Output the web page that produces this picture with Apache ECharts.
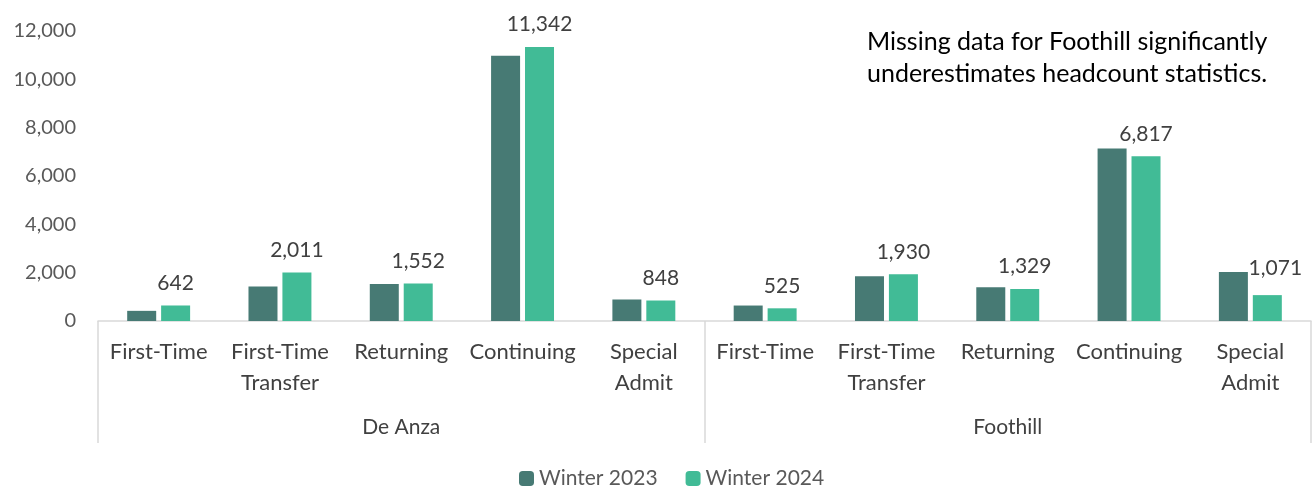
<!DOCTYPE html>
<html><head><meta charset="utf-8">
<script src="https://cdn.jsdelivr.net/npm/echarts@6/dist/echarts.min.js"></script>
<style>html,body{margin:0;padding:0;background:#fff}#c{width:1312px;height:489px}</style>
</head><body><div id="c"></div>
<script>
const categories = ['First-Time','First-Time\nTransfer','Returning','Continuing','Special\nAdmit',
                    'First-Time','First-Time\nTransfer','Returning','Continuing','Special\nAdmit'];
const groups = ['De Anza','Foothill'];
const winter2023 = [420, 1430, 1530, 10980, 890, 640, 1850, 1400, 7140, 2030];
const winter2024 = [642, 2011, 1552, 11342, 848, 525, 1930, 1329, 6817, 1071];
const yTicks = [0, 2000, 4000, 6000, 8000, 10000, 12000];
const note = ['Missing data for Foothill significantly', 'underestimates headcount statistics.'];

const FONT = 'Lato';
const chart = echarts.init(document.getElementById('c'), null, {renderer:'canvas'});
const fmt = v => Number(v).toLocaleString('en-US');
chart.setOption({
  animation:false,
  textStyle:{fontFamily:FONT},
  grid:{left:98, right:1, top:31, bottom:168},
  legend:{
    top:463, left:514, itemWidth:15, itemHeight:15, itemGap:28,
    textStyle:{fontFamily:FONT, fontSize:21, color:'#595959'},
    data:['Winter 2023','Winter 2024']
  },
  graphic:[{
    type:'text', left:867, top:26,
    style:{text:note.join('\n'), font:'25px '+FONT, fill:'#000', lineHeight:32}
  }],
  xAxis:[{
    type:'category', data:categories, position:'bottom',
    axisLine:{show:true, lineStyle:{color:'#d9d9d9', width:1.5}},
    axisTick:{show:false},
    axisLabel:{interval:0, fontFamily:FONT, fontSize:22, color:'#404040', lineHeight:31, margin:15}
  },{
    type:'category', data:groups, position:'bottom', offset:0,
    axisLine:{show:false},
    axisTick:{show:true, length:122, lineStyle:{color:'#d9d9d9', width:1.5}},
    axisLabel:{interval:0, fontFamily:FONT, fontSize:21, color:'#404040', margin:96}
  }],
  yAxis:{
    type:'value', min:yTicks[0], max:yTicks[yTicks.length-1], interval:2000,
    axisLine:{show:false}, axisTick:{show:false}, splitLine:{show:false},
    axisLabel:{fontFamily:FONT, fontSize:20, color:'#595959', margin:22, formatter:fmt}
  },
  series:[{
    name:'Winter 2023', type:'bar', xAxisIndex:0, data:winter2023,
    barWidth:29, barGap:'17%',
    itemStyle:{color:'#477a74'}
  },{
    name:'Winter 2024', type:'bar', xAxisIndex:0,
    data:winter2024.map((v,i)=> i===9 ? {value:v, label:{offset:[8,-4]}} : v),
    barWidth:29,
    itemStyle:{color:'#41bb96'},
    label:{show:true, position:'top', distance:12, fontFamily:FONT, fontSize:21, color:'#404040',
      formatter:p=>fmt(p.value)}
  }]
});
</script></body></html>
